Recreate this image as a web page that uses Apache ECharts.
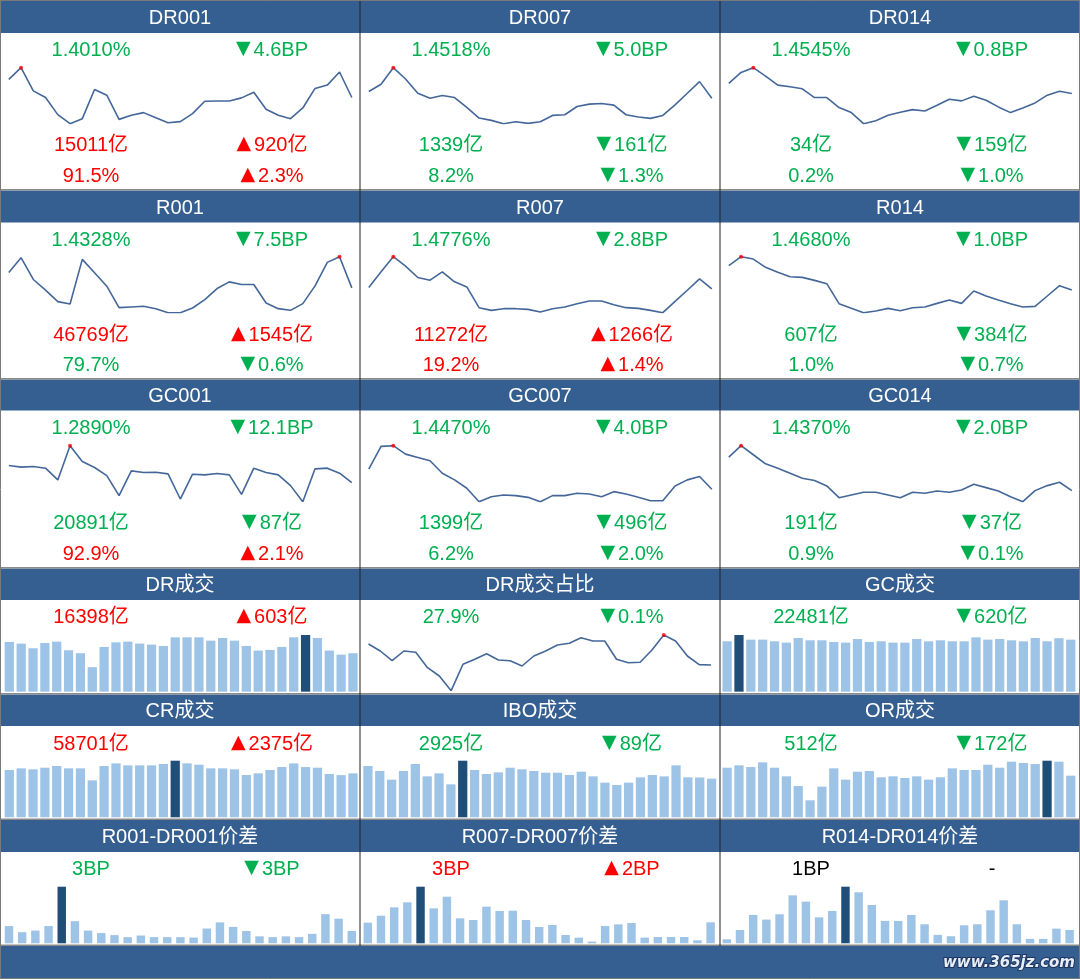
<!DOCTYPE html>
<html>
<head>
<meta charset="utf-8">
<script src="https://cdn.jsdelivr.net/npm/echarts@6/dist/echarts.min.js"></script>
<style>
  html, body { margin: 0; padding: 0; background: #fff; }
  #chart { width: 1080px; height: 979px; }
</style>
</head>
<body>
<div id="chart"></div>
<script>
// rate sparklines (29 days)
const dr001 = [1.4337, 1.4548, 1.4130, 1.4010, 1.3701, 1.3537, 1.3628, 1.4155, 1.4052, 1.3615, 1.3688, 1.3737, 1.3646, 1.3555, 1.3574, 1.3719, 1.3943, 1.3948, 1.3948, 1.4003, 1.4106, 1.3797, 1.3688, 1.3628, 1.3821, 1.4174, 1.4234, 1.4470, 1.4010]
const dr007 = [1.4718, 1.4938, 1.5438, 1.5098, 1.4668, 1.4518, 1.4598, 1.4538, 1.4238, 1.3918, 1.3848, 1.3748, 1.3808, 1.3758, 1.3808, 1.3998, 1.4018, 1.4268, 1.4338, 1.4358, 1.4308, 1.4018, 1.3948, 1.3908, 1.3998, 1.4318, 1.4668, 1.5018, 1.4518]
const dr014 = [1.4888, 1.5265, 1.5425, 1.5139, 1.4831, 1.4774, 1.4705, 1.4408, 1.4408, 1.4065, 1.3894, 1.3516, 1.3619, 1.3802, 1.3905, 1.3996, 1.3951, 1.4145, 1.4351, 1.4294, 1.4454, 1.4316, 1.4088, 1.3894, 1.4054, 1.4225, 1.4488, 1.4625, 1.4545]
const r001 = [1.4699, 1.5054, 1.4530, 1.4272, 1.3997, 1.3941, 1.5013, 1.4691, 1.4368, 1.3852, 1.3868, 1.3885, 1.3828, 1.3731, 1.3731, 1.3844, 1.4046, 1.4312, 1.4473, 1.4409, 1.4409, 1.3965, 1.3828, 1.3788, 1.3949, 1.4376, 1.4941, 1.5078, 1.4328]
const r007 = [1.4813, 1.5252, 1.5672, 1.5410, 1.5093, 1.5019, 1.5252, 1.4972, 1.4832, 1.4254, 1.4179, 1.4226, 1.4226, 1.4207, 1.4132, 1.4226, 1.4272, 1.4365, 1.4440, 1.4440, 1.4337, 1.4254, 1.4235, 1.4179, 1.4114, 1.4431, 1.4739, 1.5056, 1.4776]
const r014 = [1.5242, 1.5449, 1.5395, 1.5203, 1.5088, 1.4988, 1.4972, 1.4903, 1.4826, 1.4365, 1.4257, 1.4157, 1.4195, 1.4257, 1.4203, 1.4272, 1.4288, 1.4372, 1.4449, 1.4372, 1.4657, 1.4542, 1.4449, 1.4365, 1.4288, 1.4303, 1.4542, 1.4780, 1.4680]
const gc001 = [1.5094, 1.4878, 1.4964, 1.4748, 1.3236, 1.7643, 1.5612, 1.4834, 1.3797, 1.1205, 1.4402, 1.4186, 1.4229, 1.4013, 1.0773, 1.3970, 1.3884, 1.4056, 1.3884, 1.1378, 1.4748, 1.4186, 1.3884, 1.2501, 1.0428, 1.4661, 1.4748, 1.4100, 1.2890]
const gc007 = [1.5102, 1.5818, 1.5839, 1.5575, 1.5470, 1.5365, 1.4975, 1.4765, 1.4502, 1.4080, 1.4238, 1.4291, 1.4270, 1.4217, 1.4080, 1.4270, 1.4270, 1.4344, 1.4323, 1.4238, 1.4396, 1.4323, 1.4217, 1.4112, 1.4112, 1.4575, 1.4765, 1.4870, 1.4470]
const gc014 = [1.5170, 1.5442, 1.5226, 1.5010, 1.4906, 1.4786, 1.4666, 1.4610, 1.4482, 1.4202, 1.4266, 1.4330, 1.4330, 1.4266, 1.4202, 1.4330, 1.4306, 1.4362, 1.4330, 1.4386, 1.4522, 1.4442, 1.4362, 1.4226, 1.4106, 1.4370, 1.4490, 1.4570, 1.4370]

// volumes (30 days), 亿
const drVol = [21207, 20500, 18521, 20783, 21348, 17672, 16400, 10462, 19086, 21065, 21348, 20500, 20075, 19510, 23186, 23186, 23186, 21772, 22903, 21772, 19510, 17531, 17813, 19086, 23186, 24175, 22903, 17531, 15795, 16398]
const drShare = [33.15, 31.4, 28.98, 31.4, 31.08, 27.23, 25.15, 21.48, 28.08, 29.33, 30.73, 29.15, 28.98, 27.65, 30.15, 31.4, 32.9, 33.33, 34.73, 33.9, 33.9, 29.33, 28.48, 28.58, 31.65, 35.4, 33.9, 30.15, 28.0, 27.9]
const gcVol = [21766, 24487, 22481, 22481, 21766, 21194, 23198, 22196, 22196, 21480, 21194, 22769, 21480, 21766, 21194, 21194, 22769, 21766, 22196, 21766, 21766, 23485, 22481, 22769, 22196, 21766, 23198, 21766, 23101, 22481]
const crVol = [63147, 65371, 64037, 66260, 68484, 65371, 65371, 49362, 68484, 72041, 69373, 69373, 69373, 71152, 75599, 72041, 70263, 65371, 65371, 64037, 56477, 58701, 63147, 67150, 72041, 67150, 66260, 57811, 56326, 58701]
const iboVol = [3884, 3505, 2850, 3505, 4035, 3102, 3329, 2497, 4287, 3581, 3278, 3404, 3757, 3631, 3505, 3379, 3379, 3203, 3455, 3102, 2623, 2446, 2623, 3026, 3203, 3102, 3934, 3026, 3014, 2925]
const orVol = [610, 639, 618, 676, 610, 504, 385, 209, 377, 602, 463, 561, 569, 492, 504, 483, 504, 463, 492, 602, 582, 582, 647, 610, 684, 668, 655, 696, 684, 512]

// spreads (27 days), BP
const sp001 = [4.2, 2.7, 3.1, 4.2, 13.8, 5.4, 3.1, 2.5, 2.0, 1.5, 1.9, 1.5, 1.5, 1.5, 1.4, 3.6, 5.1, 4.0, 3.0, 1.7, 1.5, 1.7, 1.5, 2.3, 7.1, 6.0, 3.0]
const sp007 = [2.95, 3.95, 5.14, 5.86, 8.1, 5.0, 6.67, 3.57, 3.33, 5.24, 4.62, 4.67, 3.33, 2.33, 2.62, 1.19, 0.81, 0.24, 2.48, 2.71, 2.9, 0.81, 0.9, 0.9, 0.9, 0.43, 3.0]
const sp014 = [0.3, 1.0, 2.13, 1.78, 2.18, 3.6, 3.13, 1.95, 2.43, 4.25, 3.83, 2.88, 1.68, 1.68, 2.13, 1.43, 0.63, 0.53, 1.35, 1.43, 2.48, 3.23, 1.43, 0.33, 0.33, 1.1, 1.0]

// labels
const rateNames = ['DR001', 'DR007', 'DR014', 'R001', 'R007', 'R014', 'GC001', 'GC007', 'GC014']
const rateVal = ['1.4010%', '1.4518%', '1.4545%', '1.4328%', '1.4776%', '1.4680%', '1.2890%', '1.4470%', '1.4370%']
const rateChg = ['▼4.6BP', '▼5.0BP', '▼0.8BP', '▼7.5BP', '▼2.8BP', '▼1.0BP', '▼12.1BP', '▼4.0BP', '▼2.0BP']
const volVal = ['15011亿', '1339亿', '34亿', '46769亿', '11272亿', '607亿', '20891亿', '1399亿', '191亿']
const volChg = ['▲920亿', '▼161亿', '▼159亿', '▲1545亿', '▲1266亿', '▼384亿', '▼87亿', '▼496亿', '▼37亿']
const shareVal = ['91.5%', '8.2%', '0.2%', '79.7%', '19.2%', '1.0%', '92.9%', '6.2%', '0.9%']
const shareChg = ['▲2.3%', '▼1.3%', '▼1.0%', '▼0.6%', '▲1.4%', '▼0.7%', '▲2.1%', '▼2.0%', '▼0.1%']
const sumNames = ['DR成交', 'DR成交占比', 'GC成交', 'CR成交', 'IBO成交', 'OR成交']
const sumVal = ['16398亿', '27.9%', '22481亿', '58701亿', '2925亿', '512亿']
const sumChg = ['▲603亿', '▼0.1%', '▼620亿', '▲2375亿', '▼89亿', '▼172亿']
const spreadNames = ['R001-DR001价差', 'R007-DR007价差', 'R014-DR014价差']
const spreadVal = ['3BP', '3BP', '1BP']
const spreadChg = ['▼3BP', '▲2BP', '-']

const HEAD = '#365f91'
const LINE = '#44679a'
const LIGHT = '#9dc3e6'
const DARK = '#1f4e79'
const FONT = '"Liberation Sans", "Noto Sans CJK SC", sans-serif'

const colX = [0, 360, 720]
const headTop = [1, 190.5, 379.5, 568.5, 694.5, 820]
const headH = [32, 32, 31, 31.5, 31.5, 32]
const titleY = [18.5, 208, 396.5, 585, 711, 837]

const tone = s => s[0] === '▲' ? '#ff0000' : s[0] === '▼' ? '#00b050' : '#000000'

const graphic = []
const text = (str, x, y, color, size) => {
  let s = str
  const tri = str[0] === '▲' || str[0] === '▼'
  if (tri) s = '{t|' + str[0] + '}' + str.slice(1)
  graphic.push({
    type: 'text', z: 10,
    style: {
      text: s, x, y, fill: color, fontSize: size || 20, fontFamily: FONT,
      align: 'center', verticalAlign: 'middle', textAlign: 'center', textVerticalAlign: 'middle',
      rich: { t: { fontSize: 19, fontFamily: '"DejaVu Sans"', fill: color, padding: [0, 3, 2, 0] } }
    }
  })
}

// header bars + separator lines
headTop.forEach((t, r) => {
  graphic.push({ type: 'rect', shape: { x: 0, y: t, width: 1080, height: headH[r] }, style: { fill: HEAD } })
  graphic.push({ type: 'rect', shape: { x: 0, y: t - 1.5, width: 1080, height: 1.5 }, style: { fill: '#8a8a8a' } })
})
graphic.push({ type: 'rect', shape: { x: 0, y: 946, width: 1080, height: 33 }, style: { fill: HEAD } })
graphic.push({ type: 'rect', shape: { x: 0, y: 944.5, width: 1080, height: 1.5 }, style: { fill: '#8a8a8a' } })
;[360, 720].forEach(x => graphic.push({ type: 'rect', z: 5, shape: { x: x - 0.5, y: 0, width: 1, height: 946 }, style: { fill: '#222' } }))
graphic.push({ type: 'rect', z: 6, shape: { x: 0.5, y: 0.5, width: 1079, height: 978 }, style: { fill: 'none', stroke: '#7a7a7a', lineWidth: 1 } })

// rate panels text
const r1 = [50, 240, 428], r2 = [145, 335, 523], r3 = [176, 365.5, 554]
rateNames.forEach((n, i) => {
  const row = Math.floor(i / 3), c = colX[i % 3]
  text(n, c + 180, titleY[row], '#fff', 20)
  text(rateVal[i], c + 91, r1[row], tone(rateChg[i]))
  text(rateChg[i], c + 272, r1[row], tone(rateChg[i]))
  text(volVal[i], c + 91, r2[row], tone(volChg[i]))
  text(volChg[i], c + 272, r2[row], tone(volChg[i]))
  text(shareVal[i], c + 91, r3[row], tone(shareChg[i]))
  text(shareChg[i], c + 272, r3[row], tone(shareChg[i]))
})
const sy = [617.5, 744.5]
sumNames.forEach((n, i) => {
  const row = Math.floor(i / 3), c = colX[i % 3]
  text(n, c + 180, titleY[3 + row], '#fff', 20)
  text(sumVal[i], c + 91, sy[row], tone(sumChg[i]))
  text(sumChg[i], c + 272, sy[row], tone(sumChg[i]))
})
spreadNames.forEach((n, i) => {
  const c = colX[i]
  text(n, c + 180, titleY[5], '#fff', 20)
  text(spreadVal[i], c + 91, 869.5, tone(spreadChg[i]))
  text(spreadChg[i], c + 272, 869.5, tone(spreadChg[i]))
})
graphic.push({
  type: 'text', z: 10,
  style: {
    text: 'www.365jz.com', x: 1075, y: 963, fill: '#e8eef8', stroke: '#1b3560', lineWidth: 2,
    font: `italic bold 15px "DejaVu Sans", sans-serif`,
    align: 'right', verticalAlign: 'middle', textAlign: 'right', textVerticalAlign: 'middle'
  }
})

const grids = [], xAxes = [], yAxes = [], series = []
const addGrid = (g, bar) => {
  grids.push(g)
  const k = grids.length - 1
  xAxes.push({ type: 'category', gridIndex: k, show: false, boundaryGap: bar })
  yAxes.push({
    type: 'value', gridIndex: k, show: false, splitLine: { show: false },
    min: bar ? 0 : v => v.min, max: v => v.max
  })
  return k
}
const addLine = (data, g) => {
  const k = addGrid(g, false)
  const mx = Math.max(...data), mi = data.indexOf(mx)
  series.push({
    type: 'line', xAxisIndex: k, yAxisIndex: k, data, showSymbol: false,
    lineStyle: { color: LINE, width: 1.6 }, silent: true
  })
  series.push({
    type: 'scatter', xAxisIndex: k, yAxisIndex: k, data: [[mi, mx]],
    symbolSize: 4, itemStyle: { color: '#ff0000' }, silent: true, z: 3
  })
}
const addBar = (data, g, gap) => {
  const k = addGrid(g, true)
  const mi = data.indexOf(Math.max(...data))
  series.push({
    type: 'bar', xAxisIndex: k, yAxisIndex: k, data, barCategoryGap: gap, silent: true,
    itemStyle: { color: p => p.dataIndex === mi ? DARK : LIGHT }
  })
}

const lineTop = [67.7, 256.7, 445.7]
;[dr001, dr007, dr014, r001, r007, r014, gc001, gc007, gc014].forEach((d, i) => {
  const row = Math.floor(i / 3)
  addLine(d, { left: colX[i % 3] + 8.8, top: lineTop[row], width: 343, height: 56 })
})
addLine(drShare, { left: 368.5, top: 635, width: 342.5, height: 55.7 })

const barLeft = [3.4, 362, 721.2]
addBar(drVol, { left: barLeft[0], top: 635, width: 355.5, height: 56.7 }, '22%')
addBar(gcVol, { left: barLeft[2], top: 635, width: 355.5, height: 56.7 }, '22%')
addBar(crVol, { left: barLeft[0], top: 760.7, width: 355.5, height: 56.6 }, '22%')
addBar(iboVol, { left: barLeft[1], top: 760.7, width: 355.5, height: 56.6 }, '22%')
addBar(orVol, { left: barLeft[2], top: 760.7, width: 355.5, height: 56.6 }, '22%')
addBar(sp001, { left: 2.4, top: 886.7, width: 356, height: 56.6 }, '36%')
addBar(sp007, { left: 361.2, top: 886.7, width: 356, height: 56.6 }, '36%')
addBar(sp014, { left: 720.2, top: 886.7, width: 356, height: 56.6 }, '36%')

const chart = echarts.init(document.getElementById('chart'))
chart.setOption({
  animation: false,
  backgroundColor: '#ffffff',
  grid: grids,
  xAxis: xAxes,
  yAxis: yAxes,
  series,
  graphic
})
</script>
</body>
</html>
